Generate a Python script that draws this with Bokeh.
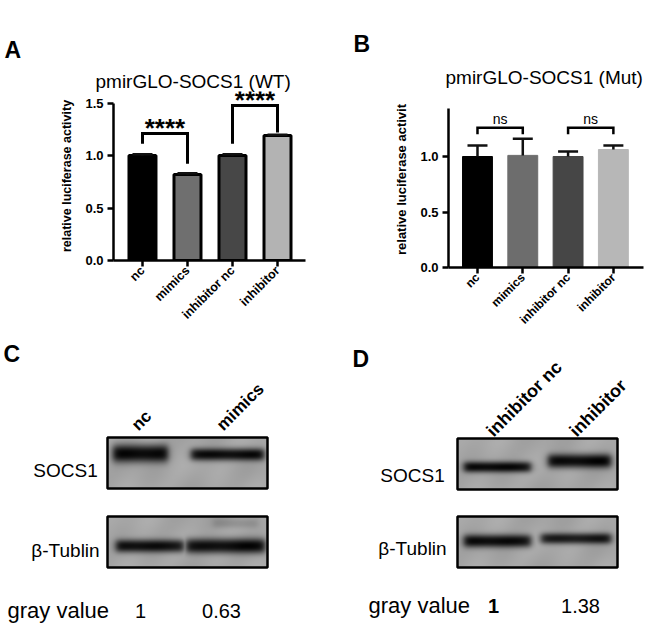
import numpy as np
from bokeh.plotting import figure
from bokeh.layouts import column, row
from bokeh.models import (Range1d, FixedTicker, Label, Whisker, ColumnDataSource,
                          TeeHead, NumeralTickFormatter, Title)
from bokeh.embed import file_html
from bokeh.resources import INLINE

# ---------------- data ----------------
categories = ["nc", "mimics", "inhibitor nc", "inhibitor"]
wt_mean = [1.00, 0.82, 1.00, 1.19]
wt_err = [0.012, 0.012, 0.012, 0.008]
mut_mean = [1.00, 1.01, 1.00, 1.063]
mut_err = [0.10, 0.15, 0.045, 0.035]
wt_sig = ["****", "****"]
mut_sig = ["ns", "ns"]
wt_ticks = [0.0, 0.5, 1.0, 1.5]
mut_ticks = [0.0, 0.5, 1.0]

c_lanes = ["nc", "mimics"]
c_gray = [1, 0.63]
d_lanes = ["inhibitor nc", "inhibitor"]
d_gray = [1, 1.38]
blot_rows = ["SOCS1", "β-Tublin"]

# ---------------- styles ----------------
FONT = "Liberation Sans"
wt_colors = ["#000000", "#6f6f6f", "#474747", "#b3b3b3"]
mut_colors = ["#000000", "#6d6d6d", "#464646", "#b7b7b7"]


def style_axes(p, ticks, bounds, ylabel, ylabel_size, xlab_size):
    p.xgrid.visible = False
    p.ygrid.visible = False
    p.outline_line_color = None
    p.xaxis.ticker = FixedTicker(ticks=list(range(1, len(categories) + 1)))
    p.xaxis.major_label_overrides = {i + 1: c for i, c in enumerate(categories)}
    p.xaxis.major_label_orientation = np.pi / 4
    p.yaxis.ticker = FixedTicker(ticks=ticks)
    p.yaxis.formatter = NumeralTickFormatter(format="0.0")
    p.yaxis.bounds = bounds
    for ax in (p.xaxis, p.yaxis):
        ax.axis_line_width = 2.5
        ax.axis_line_color = "black"
        ax.major_tick_in = 0
        ax.major_tick_out = 6
        ax.major_tick_line_width = 2.5
        ax.major_tick_line_color = "black"
        ax.minor_tick_line_color = None
        ax.major_label_text_font = FONT
        ax.major_label_text_font_style = "bold"
        ax.major_label_text_color = "black"
    p.xaxis.major_label_text_font_size = xlab_size
    p.xaxis.major_label_standoff = 2
    p.yaxis.major_label_text_font_size = "13px"
    p.yaxis.major_label_standoff = 4
    p.yaxis.axis_label = ylabel
    p.yaxis.axis_label_text_font = FONT
    p.yaxis.axis_label_text_font_style = "bold"
    p.yaxis.axis_label_text_font_size = ylabel_size
    p.yaxis.axis_label_text_color = "black"
    p.yaxis.axis_label_standoff = 8


def add_label(p, x, y, text, size, style="normal", align="left", baseline="alphabetic", angle=0.0):
    p.add_layout(Label(x=x, y=y, text=text, text_font=FONT, text_font_size=size,
                       text_font_style=style, text_align=align, text_baseline=baseline,
                       angle=angle, text_color="black"))


def plain_fig(width, height):
    p = figure(width=width, height=height, x_range=Range1d(0, width),
               y_range=Range1d(0, height), toolbar_location=None, output_backend="svg",
               x_axis_location=None, y_axis_location=None, min_border=0,
               background_fill_color="white", border_fill_color="white")
    p.grid.visible = False
    p.outline_line_color = None
    return p


def bar_panel(width, height, mbl, mbr, mbt, mbb, xr, yr, means, errs, colors, outline,
              ticks, bounds, ylabel, ylabel_size, xlab_size, title, title_off, title_so,
              letter, letter_off, letter_so):
    p = figure(width=width, height=height, x_range=Range1d(*xr), y_range=Range1d(*yr),
               toolbar_location=None, output_backend="svg",
               min_border_left=mbl, min_border_right=mbr, min_border_top=mbt,
               min_border_bottom=mbb, background_fill_color="white",
               border_fill_color="white")
    p.title.visible = False
    p.add_layout(Title(text=title, align="left", offset=title_off, standoff=title_so,
                       text_font=FONT, text_font_size="19px", text_font_style="normal",
                       text_color="black"), "above")
    p.add_layout(Title(text=letter, align="left", offset=letter_off, standoff=letter_so,
                       text_font=FONT, text_font_size="23px", text_font_style="bold",
                       text_color="black"), "above")
    xs = list(range(1, len(categories) + 1))
    src = ColumnDataSource(dict(x=xs, top=means,
                                upper=[m + e for m, e in zip(means, errs)],
                                color=colors))
    if outline:
        p.vbar(x="x", top="top", width=0.6, source=src, fill_color="color",
               line_color="black", line_width=3)
    else:
        p.vbar(x="x", top="top", width=0.66, source=src, fill_color="color",
               line_color="color", line_width=1)
    p.add_layout(Whisker(source=src, base="x", upper="upper", lower="top",
                         line_width=2.5, line_color="#111111", level="overlay",
                         upper_head=TeeHead(size=20, line_width=2.5, line_color="#111111"),
                         lower_head=None))
    style_axes(p, ticks, bounds, ylabel, ylabel_size, xlab_size)
    return p


TOP_H = 336
FRAME_TOP = 91

# ---------------- panel A ----------------
pA = bar_panel(338, TOP_H, 113, 33, FRAME_TOP, 76, (0.356, 4.622),
               (0, (260 - FRAME_TOP) / 105.0), wt_mean, wt_err, wt_colors, True,
               wt_ticks, (0, 1.5), "relative luciferase activity", "12.5px", "12.5px",
               "pmirGLO-SOCS1 (WT)", 95 - 113, 0, "A", 4 - 113, 12)
# brackets: (left bar, right bar, top, left leg gap, right leg gap)
a_br = [(0, 1, 1.21, 0.10, 0.09), (2, 3, 1.476, 0.10, 0.02)]
bxs, bys = [], []
for (i, j, top, gl, gr), s in zip(a_br, wt_sig):
    x1, x2 = i + 1, j + 1
    bxs.append([x1, x1, x2, x2])
    bys.append([wt_mean[i] + wt_err[i] + gl, top, top, wt_mean[j] + wt_err[j] + gr])
    add_label(pA, (x1 + x2) / 2, top + 0.05, s, "26px", "bold", align="center")
pA.multi_line(xs=bxs, ys=bys, line_color="black", line_width=3, line_join="miter")

# ---------------- panel B ----------------
pB = bar_panel(331, TOP_H, 110, 26, FRAME_TOP, 69, (0.36, 4.665),
               (0, (267 - FRAME_TOP) / 111.0), mut_mean, mut_err, mut_colors, False,
               mut_ticks, (0, 1.43), "relative luciferase activit", "13px", "12px",
               "pmirGLO-SOCS1 (Mut)", 445 - 448, 8, "B", 353 - 448, 8)
b_br = [(0, 1, 1.26, 1.20), (2, 3, 1.26, 1.20)]
bxs, bys = [], []
for (i, j, top, leg), s in zip(b_br, mut_sig):
    x1, x2 = i + 1, j + 1
    bxs.append([x1, x1, x2, x2])
    bys.append([leg, top, top, leg])
    add_label(pB, (x1 + x2) / 2, top + 0.075, s, "14px", align="center")
pB.multi_line(xs=bxs, ys=bys, line_color="black", line_width=2.5, line_join="miter")


# ---------------- blot panels ----------------
def make_blot(w, h, bands, bg=166):
    yy, xx = np.mgrid[0:h, 0:w].astype(float)
    dark = np.zeros((h, w))
    for (x0, x1, yc, hh, amp) in bands:
        ex = 1 / (1 + np.exp(-(xx - x0) / 2.0)) * 1 / (1 + np.exp(-(x1 - xx) / 2.0))
        ey = np.exp(-np.abs((yy - yc) / hh) ** 2.4)
        dark = np.maximum(dark, amp * ex * ey)
    shade = bg * (1 - dark) + 5 * np.sin(xx / 19.0) * np.cos(yy / 9.0) + 4 * np.cos(xx / 7.0 + yy / 13.0)
    shade = np.clip(shade, 0, 255).astype(np.uint8)
    shade = np.flipud(shade)
    img = np.empty((h, w), dtype=np.uint32)
    v = img.view(dtype=np.uint8).reshape((h, w, 4))
    v[..., 0] = shade
    v[..., 1] = shade
    v[..., 2] = shade
    v[..., 3] = 255
    return img


def blot_panel(width, height, letter, letter_xy, lanes, lane_xy, lane_size, box_x,
               box_tops, row_label_x, row_label_y, bands, gray, gray_xy, gray_bold):
    p = plain_fig(width, height)
    add_label(p, letter_xy[0], letter_xy[1], letter, "23px", "bold")
    for lane, (lx, ly) in zip(lanes, lane_xy):
        add_label(p, lx, ly, lane, lane_size, "bold", angle=np.pi / 4)
    bw, bh = 160, 51
    for k, (name, top) in enumerate(zip(blot_rows, box_tops)):
        img = make_blot(bw, bh, bands[k])
        p.image_rgba(image=[img], x=box_x, y=top - bh, dw=bw, dh=bh)
        p.quad(left=[box_x], right=[box_x + bw], bottom=[top - bh], top=[top],
               fill_color=None, line_color="black", line_width=2.5)
        add_label(p, row_label_x, row_label_y[k], name, "19px", align="center")
    add_label(p, gray_xy[0][0], gray_xy[0][1], "gray value", "22px")
    for g, (gx, gy), bold in zip(gray, gray_xy[1:], gray_bold):
        add_label(p, gx, gy, "%g" % g, "20px", "bold" if bold else "normal", align="center")
    return p


# band shapes (x0, x1, y-center from box top, half height, darkness) in box pixels
c_bands = [
    [(5, 60, 15.5, 9.0 * c_gray[0] ** 0.8, 0.95), (83, 156, 16.5, 9.0 * c_gray[1] ** 0.8, 0.93)],
    [(8, 76, 29, 6.5, 0.9), (78, 157, 29, 7.5, 0.93), (105, 150, 6, 5.0, 0.15)],
]
d_bands = [
    [(6, 73, 28, 5.5 * d_gray[0] ** 0.8, 0.93), (90, 153, 22, 5.5 * d_gray[1] ** 0.8, 0.95)],
    [(6, 73, 24, 6.5, 0.92), (83, 153, 21.5, 5.5, 0.85)],
]

BOT_H = 631 - TOP_H
pC = blot_panel(338, BOT_H, "C", (3, 278), c_lanes, [(134, 204), (219, 204)], "17px",
                107, [194, 115], 65, [161, 81], c_bands, c_gray,
                [(7, 21), (140, 21), (221, 21)], [False, False])
pD = blot_panel(331, BOT_H, "D", (14, 273), d_lanes, [(151, 198), (234, 198)], "18px",
                119, [193, 115], 74, [156, 83], d_bands, d_gray,
                [(30, 26), (155, 26), (242, 26)], [True, False])

layout = column(row(column(pA), column(pB)), row(pC, pD))
open("out.html", "w").write(file_html(layout, INLINE))
